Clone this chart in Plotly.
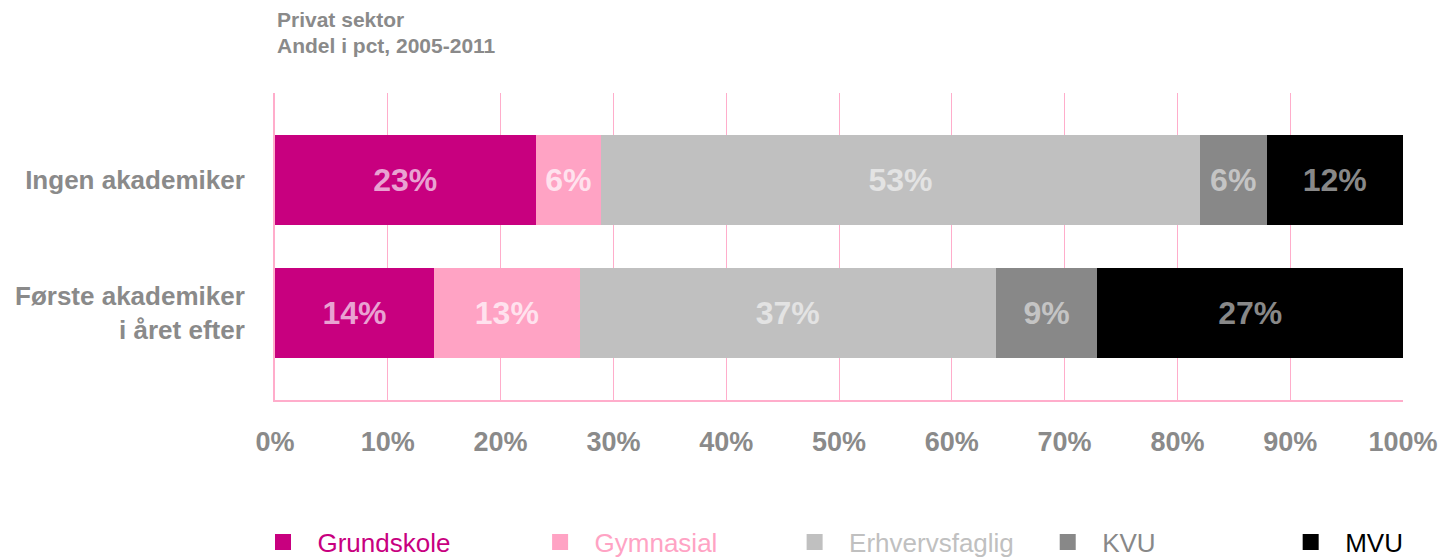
import plotly.graph_objects as go

categories = ["Ingen akademiker", "Første akademiker<br>i året efter"]
series_names = ["Grundskole", "Gymnasial", "Erhvervsfaglig", "KVU", "MVU"]
grundskole = [23.1, 14.1]
gymnasial = [5.8, 12.9]
erhvervsfaglig = [53.1, 36.9]
kvu = [5.9, 9.0]
mvu = [12.1, 27.1]
values = [grundskole, gymnasial, erhvervsfaglig, kvu, mvu]

bar_colors = ["#c8007f", "#ffa3c4", "#c0c0c0", "#888888", "#000000"]
label_colors = ["#e9a2d2", "#ffe2ee", "#e3e3e3", "#c4c4c4", "#888888"]
legend_pad = ["&nbsp;" * 11 + "\u2009", "&nbsp;" * 10, "&nbsp;" * 4, "&nbsp;" * 18, ""]
tick_vals = [0, 10, 20, 30, 40, 50, 60, 70, 80, 90, 100]
tick_text = [f"{v}%" for v in tick_vals]
title_lines = ["Privat sektor", "Andel i pct, 2005-2011"]

FONT = "Liberation Sans, Arial, sans-serif"
GRAY = "#8a8a8a"
PINK = "#ffadcb"

W, H = 1438, 557
ML, MR, MT, MB = 275, 35, 93, 157
PLOT_W = W - ML - MR
PLOT_H = H - MT - MB

fig = go.Figure()
for name, vals, bc, lc in zip(series_names, values, bar_colors, label_colors):
    fig.add_trace(go.Bar(
        y=categories, x=vals, orientation="h", name=name,
        marker=dict(color=bc, line=dict(width=0)),
        texttemplate="%{x:.0f}%", textposition="inside", insidetextanchor="middle",
        textfont=dict(family=FONT, size=32, color=lc, weight="bold"),
        showlegend=False, hoverinfo="skip",
    ))
for name, bc, pad in zip(series_names, bar_colors, legend_pad):
    fig.add_trace(go.Scatter(
        x=[None], y=[None], mode="markers",
        name=f'&nbsp;&nbsp;<span style="color:{bc}">{name}</span>' + pad,
        marker=dict(symbol="square", size=20, color=bc),
        showlegend=True, hoverinfo="skip",
    ))

fig.update_layout(
    barmode="stack",
    bargap=0.326,
    width=W, height=H,
    margin=dict(l=ML, r=MR, t=MT, b=MB, autoexpand=False),
    plot_bgcolor="white", paper_bgcolor="white",
    font=dict(family=FONT, color=GRAY),
    xaxis=dict(
        range=[0, 100], tickvals=tick_vals, ticktext=tick_text,
        showgrid=True, gridcolor=PINK, gridwidth=1,
        showline=True, linecolor=PINK, linewidth=2,
        zeroline=False, ticks="", ticklabelstandoff=17,
        tickfont=dict(family=FONT, size=27, color=GRAY, weight="bold"),
        fixedrange=True,
    ),
    yaxis=dict(
        categoryorder="array", categoryarray=categories,
        range=[1.65, -0.65],
        showgrid=False, showline=True, linecolor=PINK, linewidth=2,
        ticks="", ticklabelstandoff=23,
        tickfont=dict(family=FONT, size=26, color=GRAY, weight="bold"),
        fixedrange=True,
    ),
    legend=dict(
        orientation="h", traceorder="normal",
        x=(263 - ML) / PLOT_W, xanchor="left",
        y=(PLOT_H + MT - 542) / PLOT_H, yanchor="middle",
        font=dict(family=FONT, size=26, color=GRAY),
        itemclick=False, itemdoubleclick=False,
    ),
    showlegend=True,
)

for i, line in enumerate(title_lines):
    y_px = 20 + 26 * i
    fig.add_annotation(
        text=line, xref="paper", yref="paper", x=0, y=(H - MB - y_px) / PLOT_H,
        xanchor="left", yanchor="middle", showarrow=False,
        font=dict(family=FONT, size=21, color=GRAY, weight="bold"),
    )

fig.write_html(
    "out.html",
    config={"displayModeBar": False},
    post_script="document.body.style.margin='0';document.body.style.overflow='hidden';",
)
